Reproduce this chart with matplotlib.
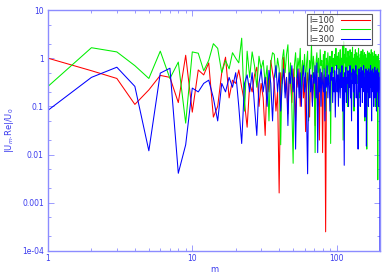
import matplotlib
matplotlib.use("Agg")
import matplotlib.pyplot as plt
import numpy as np
from matplotlib.ticker import LogLocator, NullFormatter

# |U_m Re|/U_0, one value per m (m = 1, 2, 3, ...)
red_l100 = [1.0, 0.55, 0.38, 0.11, 0.22, 0.44, 0.40, 0.12, 1.15, 0.076,
            0.57, 0.45, 0.80, 0.06, 0.10, 0.50, 1.05, 0.15, 0.35, 0.30,
            0.57, 0.25, 0.12, 0.037, 0.30, 0.20, 0.45, 0.65, 0.10, 0.30,
            0.15, 0.025, 0.40, 0.20, 0.90, 0.50, 0.30, 0.08, 0.20, 0.0016,
            0.50, 0.30, 1.05, 0.20, 0.40, 0.07, 0.50, 0.30, 0.12, 0.60,
            0.20, 0.05, 0.45, 0.25, 0.60, 0.10, 0.35, 0.75, 0.15, 0.40,
            0.03, 0.30, 0.50, 0.20, 0.06, 0.45, 0.30, 0.12, 0.50, 0.20,
            0.04, 0.35, 0.55, 0.10, 0.30, 0.02, 0.40, 0.25, 0.50, 0.011,
            0.30, 0.45, 0.15, 0.00025, 0.20]

green_l200 = [0.26, 1.65, 1.35, 0.70, 0.38, 1.40, 0.38, 0.83, 0.045, 1.35,
              1.27, 0.55, 0.90, 2.0, 1.6, 0.5, 0.9, 0.6, 1.3, 1.0,
              0.8, 2.6, 0.08, 1.4, 0.4, 1.35, 0.7, 0.25, 1.1, 0.6,
              0.9, 0.3, 0.7, 0.05, 0.8, 1.3, 1.2, 0.4, 1.0, 0.6,
              0.016, 0.9, 1.5, 0.5, 1.2, 1.9, 0.3, 0.8, 0.1, 0.0066,
              0.7, 1.3, 0.4, 1.0, 0.6, 1.6, 0.2, 0.9, 0.5, 1.2,
              0.3, 0.8, 1.4, 0.05, 0.9, 0.6, 1.9, 0.4, 1.1, 0.7,
              0.011, 0.8, 1.3, 0.5, 1.0, 0.2, 1.5, 0.7, 0.9, 0.3,
              1.2, 0.6, 1.4, 0.08, 1.0, 0.5, 1.3, 0.7, 0.3, 1.1,
              0.017, 0.9, 1.4, 0.5, 1.0, 0.3, 1.2, 0.7, 1.6, 0.4,
              1.1, 0.6, 1.3, 0.2, 0.9, 1.5, 0.4, 1.0, 0.7, 1.8,
              0.02, 2.2, 0.8, 1.2, 0.3, 1.6, 0.6, 1.0, 0.1, 1.4,
              0.7, 1.1, 0.4, 1.5, 0.9, 0.2, 1.3, 0.6, 1.7, 0.5,
              1.0, 0.08, 1.2, 0.7, 1.5, 0.4, 0.9, 1.3, 0.3, 1.1,
              0.6, 1.6, 0.5, 1.0, 0.15, 1.2, 0.8, 1.4, 0.4, 1.0,
              0.7, 1.5, 0.3, 1.1, 0.6, 1.3, 0.05, 0.9, 1.2, 0.5,
              1.0, 0.013, 1.1, 1.4, 0.6, 0.9, 0.3, 1.3, 0.7, 1.0,
              0.4, 1.2, 0.8, 1.5, 0.2, 1.0, 0.6, 1.3, 0.5, 0.9,
              1.1, 0.3, 1.4, 0.7, 1.0, 0.1, 1.2, 0.6, 0.9, 0.4,
              1.1, 0.7, 0.003, 0.8, 1.2, 0.5, 0.9, 0.3, 0.7, 0.5]

blue_l300 = [0.083, 0.40, 0.65, 0.26, 0.012, 0.49, 0.62, 0.0041, 0.016, 0.24,
             0.20, 0.30, 0.35, 0.15, 0.05, 0.30, 0.20, 0.40, 0.25, 0.50,
             0.10, 0.017, 0.30, 0.45, 0.20, 0.50, 0.10, 0.025, 0.30, 0.60,
             0.20, 0.40, 0.10, 0.56, 0.30, 0.05, 0.40, 0.70, 0.20, 0.50,
             0.08, 0.30, 0.60, 0.15, 0.40, 0.04, 0.50, 0.30, 0.70, 0.20,
             0.40, 0.013, 0.30, 0.60, 0.15, 0.50, 0.10, 0.40, 0.70, 0.20,
             0.50, 0.06, 0.004, 0.30, 0.60, 0.20, 0.45, 0.10, 0.50, 0.30,
             0.70, 0.15, 0.80, 0.011, 0.40, 0.20, 0.60, 0.10, 0.50, 0.30,
             0.20, 0.60, 0.05, 0.40, 0.25, 0.70, 0.15, 0.45, 0.30, 0.08,
             0.50, 0.35, 0.65, 0.12, 0.40, 0.20, 0.55, 0.06, 0.35, 0.70,
             0.20, 0.45, 0.10, 0.60, 0.30, 0.15, 0.50, 0.25, 0.70, 0.08,
             0.40, 0.30, 0.006, 0.50, 0.20, 0.65, 0.12, 0.40, 0.30, 0.55,
             0.10, 0.45, 0.25, 0.70, 0.15, 0.35, 0.05, 0.50, 0.30, 0.60,
             0.20, 0.40, 0.10, 0.55, 0.30, 0.70, 0.15, 0.45, 0.25, 0.08,
             0.013, 0.40, 0.60, 0.20, 0.50, 0.10, 0.35, 0.65, 0.25, 0.45,
             0.12, 0.55, 0.30, 0.70, 0.20, 0.40, 0.06, 0.50, 0.30, 0.60,
             0.015, 0.35, 0.55, 0.20, 0.45, 0.10, 0.60, 0.30, 0.50, 0.15,
             0.40, 0.70, 0.25, 0.45, 0.05, 0.55, 0.30, 0.60, 0.20, 0.40,
             0.10, 0.50, 0.30, 0.65, 0.15, 0.45, 0.25, 0.55, 0.08, 0.40,
             0.30, 0.60, 0.20, 0.45, 0.10, 0.50, 0.30, 0.40, 0.20, 0.00005]

series = [("l=100", red_l100, "#ff0000"),
          ("l=200", green_l200, "#00ee00"),
          ("l=300", blue_l300, "#0000ff")]

ytick_vals = [1e-4, 1e-3, 1e-2, 1e-1, 1, 10]
ytick_labels = ["1e-04", "0.001", "0.01", "0.1", "1", "10"]
xtick_vals = [1, 10, 100]
xtick_labels = ["1", "10", "100"]

frame_col = "#8c8cff"
text_col = "#3a3aee"

fig = plt.figure(figsize=(3.92, 2.74), dpi=100)
ax = fig.add_axes([48/392, 23/274, 332/392, 241/274])

for name, vals, col in series:
    m = np.arange(1, len(vals) + 1)
    ax.plot(m, vals, color=col, lw=0.75, label=name)

ax.set_xscale("log")
ax.set_yscale("log")
ax.set_xlim(1, 200)
ax.set_ylim(1e-4, 10)

ax.set_xticks(xtick_vals)
ax.set_xticklabels(xtick_labels)
ax.set_yticks(ytick_vals)
ax.set_yticklabels(ytick_labels)
ax.xaxis.set_minor_locator(LogLocator(base=10, subs=np.arange(2, 10), numticks=20))
ax.yaxis.set_minor_locator(LogLocator(base=10, subs=(2, 5), numticks=20))
ax.xaxis.set_minor_formatter(NullFormatter())
ax.yaxis.set_minor_formatter(NullFormatter())

ax.tick_params(which="both", direction="in", top=True, right=True,
               colors=frame_col, labelcolor=text_col, labelsize=5.5, width=0.6)
ax.tick_params(which="major", length=4, pad=3)
ax.tick_params(axis="x", which="major", pad=2)
ax.tick_params(which="minor", length=2)
for s in ax.spines.values():
    s.set_color(frame_col)
    s.set_linewidth(1.0)

ax.set_xlabel("m", color=text_col, fontsize=6)
ax.xaxis.set_label_coords(0.5, -0.075)
ax.xaxis.label.set_va("center")
ax.set_ylabel("|U$_m$.Re|/U$_0$", color=text_col, fontsize=6, labelpad=4)

leg = ax.legend(loc="upper right", bbox_to_anchor=(0.98, 0.99), markerfirst=False,
                fontsize=6, frameon=True, fancybox=False, handlelength=3.5,
                borderpad=0.2, labelspacing=0.05, handletextpad=0.8,
                borderaxespad=0.2)
leg.get_frame().set_edgecolor("#333333")
leg.get_frame().set_linewidth(0.8)
for t in leg.get_texts():
    t.set_color("#333333")

fig.savefig("out.png", dpi=100)
